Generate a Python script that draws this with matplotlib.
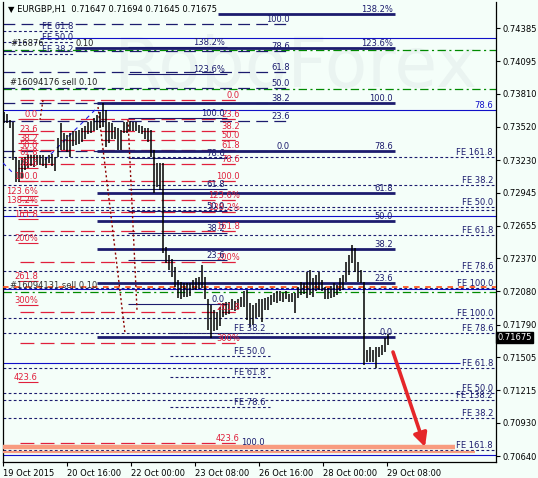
import matplotlib.pyplot as plt

plt.rcParams['font.family'] = 'DejaVu Sans'
plt.rcParams['lines.scale_dashes'] = False

FS = 6
NAVY = '#1c1c6e'
BLUE = '#1010c8'
RED = '#e0203c'
BG = '#f4fef9'

# --- Barres H1 (plus haut / plus bas), échantillonnées ---
bar_high = [
    0.7365, 0.7363, 0.7358, 0.7356, 0.7326, 0.7323, 0.7325, 0.7326, 0.7327, 0.7327,
    0.7327, 0.7327, 0.7327, 0.7327, 0.7326, 0.7327, 0.7328, 0.7326, 0.7342, 0.7355,
    0.7347, 0.7345, 0.7347, 0.7348, 0.7348, 0.7349, 0.7351, 0.7353, 0.7356, 0.7357,
    0.7360, 0.7362, 0.7365, 0.7373, 0.7367, 0.7356, 0.7355, 0.7352, 0.7351, 0.7349,
    0.7356, 0.7356, 0.7357, 0.7356, 0.7356, 0.7354, 0.7353, 0.7351, 0.7351, 0.7349,
    0.7332, 0.7320, 0.7320, 0.7320, 0.7247, 0.7240, 0.7236, 0.7229, 0.7218, 0.7216,
    0.7215, 0.7215, 0.7215, 0.7218, 0.7220, 0.7221, 0.7231, 0.7221, 0.7201, 0.7196,
    0.7192, 0.7190, 0.7194, 0.7198, 0.7199, 0.7199, 0.7201, 0.7200, 0.7201, 0.7203,
    0.7208, 0.7209, 0.7198, 0.7196, 0.7198, 0.7201, 0.7201, 0.7202, 0.7203, 0.7205,
    0.7207, 0.7208, 0.7208, 0.7207, 0.7208, 0.7206, 0.7207, 0.7207, 0.7212, 0.7216,
    0.7215, 0.7225, 0.7227, 0.7220, 0.7222, 0.7225, 0.7218, 0.7212, 0.7211, 0.7213,
    0.7215, 0.7214, 0.7220, 0.7222, 0.7234, 0.7240, 0.7249, 0.7246, 0.7234, 0.7227,
    0.7216, 0.7157, 0.7159, 0.7157, 0.7159, 0.7159, 0.7161, 0.7167, 0.7171]
bar_low = [
    0.7355, 0.7355, 0.7351, 0.7323, 0.7304, 0.7304, 0.7307, 0.7314, 0.7316, 0.7318,
    0.7317, 0.7319, 0.7319, 0.7318, 0.7316, 0.7320, 0.7318, 0.7313, 0.7326, 0.7332,
    0.7332, 0.7330, 0.7326, 0.7335, 0.7336, 0.7337, 0.7339, 0.7341, 0.7346, 0.7347,
    0.7348, 0.7349, 0.7351, 0.7352, 0.7334, 0.7338, 0.7341, 0.7341, 0.7332, 0.7332,
    0.7347, 0.7347, 0.7348, 0.7348, 0.7348, 0.7347, 0.7346, 0.7341, 0.7339, 0.7326,
    0.7294, 0.7299, 0.7297, 0.7242, 0.7233, 0.7227, 0.7221, 0.7212, 0.7202, 0.7201,
    0.7203, 0.7203, 0.7204, 0.7209, 0.7209, 0.7210, 0.7211, 0.7201, 0.7174, 0.7167,
    0.7173, 0.7174, 0.7178, 0.7186, 0.7187, 0.7188, 0.7192, 0.7191, 0.7193, 0.7194,
    0.7194, 0.7183, 0.7177, 0.7179, 0.7185, 0.7186, 0.7181, 0.7192, 0.7192, 0.7196,
    0.7199, 0.7198, 0.7200, 0.7199, 0.7201, 0.7199, 0.7199, 0.7189, 0.7202, 0.7205,
    0.7206, 0.7202, 0.7205, 0.7203, 0.7208, 0.7209, 0.7208, 0.7201, 0.7201, 0.7202,
    0.7203, 0.7205, 0.7208, 0.7209, 0.7216, 0.7222, 0.7233, 0.7225, 0.7216, 0.7215,
    0.7144, 0.7146, 0.7146, 0.7146, 0.7141, 0.7151, 0.7152, 0.7155, 0.7161]

# --- Axe du temps (heures depuis le bord gauche) ---
date_labels = ["19 Oct 2015", "20 Oct 16:00", "22 Oct 00:00", "23 Oct 08:00",
               "26 Oct 16:00", "28 Oct 00:00", "29 Oct 08:00"]
price_ticks = [0.74385, 0.74095, 0.73810, 0.73520, 0.73230, 0.72945, 0.72655,
               0.72370, 0.72080, 0.71790, 0.71505, 0.71215, 0.70930, 0.70640]
last_price = 0.71675
header = "▼ EURGBP,H1  0.71647 0.71694 0.71645 0.71675"

# --- Fibo A : lignes épaisses ---
fibA_labels = ["138.2%", "123.6%", "100.0", "78.6", "61.8", "50.0", "38.2", "23.6", "0.0"]
fibA_prices = [0.74508, 0.74210, 0.73729, 0.73309, 0.72941, 0.72696, 0.72451, 0.72154, 0.71681]
fibA_start = [107.5, 36, 47, 47, 47, 47, 47, 47, 47]
fibA_end = 196

# --- Fibo B : tirets longs bleu nuit ---
fibB_labels = ["100.0", "78.6", "61.8", "50.0", "38.2", "23.6", "0.0"]
fibB_prices = [0.74420, 0.74182, 0.73996, 0.73864, 0.73733, 0.73571, 0.73309]
fibB_end = 143.5

# --- Fibo C / D : rouges ---
fibR_labels = ["0.0", "23.6", "38.2", "50.0", "61.8", "78.6", "100.0", "123.6%",
               "138.2%", "161.8", "200%", "261.8", "300%", "423.6"]
fibC_prices = [0.73755, 0.73589, 0.73484, 0.73401, 0.73318, 0.73198, 0.73046, 0.72880,
               0.72775, 0.72609, 0.72338, 0.71900, 0.71629, 0.70754]
fibD_prices = [0.73589, 0.73458, 0.73379, 0.73318, 0.73256, 0.73160, 0.73046, 0.72915,
               0.72836, 0.72714, 0.72504, 0.72171, 0.71961, 0.71288]

# --- Fibo E : fines bleu nuit ---
fibE_labels = ["138.2%", "123.6%", "100.0", "78.6", "61.8", "50.0", "38.2", "23.6", "0.0"]
fibE_prices = [0.74219, 0.73983, 0.73598, 0.73248, 0.72976, 0.72784, 0.72591, 0.72355, 0.71970]

# --- Expansions FE ---
fe_labels = ["FE 161.8", "FE 38.2", "FE 50.0", "FE 61.8", "FE 78.6", "FE 100.0", "FE 100.0",
             "FE 78.6", "FE 61.8", "FE 50.0", "FE 138.2", "FE 38.2", "FE 161.8"]
fe_prices = [0.73256, 0.73011, 0.72819, 0.72574, 0.72259, 0.72110, 0.71848,
             0.71716, 0.71410, 0.71191, 0.71130, 0.70973, 0.70693]
fe_extra = [0.72793]
fe_mid_labels = ["FE 38.2", "FE 50.0", "FE 61.8", "FE 78.6", "100.0"]
fe_mid_prices = [0.71716, 0.71515, 0.71331, 0.71069, 0.70719]
fe_left_labels = ["FE 61.8", "FE 50.0", "FE 38.2"]
fe_left_prices = [0.74359, 0.74263, 0.74158]

# --- Lignes bleues, vertes, ordres ---
blue_prices = [0.74298, 0.73668, 0.72740, 0.72101, 0.71454, 0.70649]
blue_start = [18.5, 0, 0, 0, 0, 0]
blue_end = [246.5, 246.5, 246.5, 246.5, 228.5, 246.5]
green_prices = [0.74193, 0.73851, 0.72075]
orange_price = 0.72119
salmon_prices = [0.70719, 0.70675]
salmon_end = [226, 236]

fig = plt.figure(figsize=(5.38, 4.78), dpi=100)
fig.patch.set_facecolor(BG)
ax = fig.add_axes([3 / 538, 16 / 478, 493 / 538, 460 / 478])
ax.set_facecolor(BG)
ax.set_xlim(0, 246.5)
ax.set_ylim(0.705875, 0.746125)

# filigrane
ax.text(146, 0.7404, "RoboForex", fontsize=50, color='#eaf4f1', ha='center', va='center', zorder=0)

# lignes horizontales
ax.hlines(blue_prices, blue_start, blue_end, colors=BLUE, lw=0.8, zorder=2)
ax.text(245, 0.73668, "78.6", color=BLUE, fontsize=FS, ha='right', va='bottom', zorder=6)
ax.hlines(green_prices, 0, 246.5, colors='#008a00', lw=0.9, linestyles=[(0, (6, 2.5, 1.5, 2.5))], zorder=2)
ax.hlines(orange_price, 0, 246.5, colors='#ff4a10', lw=1.2, linestyles=[(0, (4, 4))], zorder=3)
ax.hlines(salmon_prices[0], 0, salmon_end[0], colors='#f89c80', lw=3.2, zorder=3)
ax.hlines(salmon_prices[1], 0, salmon_end[1], colors='#f89c80', lw=1.6, zorder=3)

dotted = [(0, (2, 1.7))]
ax.hlines(fe_prices + fe_extra, 0, 246.5, colors=NAVY, lw=0.8, linestyles=dotted, zorder=2)
for p, t in zip(fe_prices, fe_labels):
    ax.text(245, p, t, color=NAVY, fontsize=FS, ha='right', va='bottom', zorder=6)
ax.hlines(fe_mid_prices, 83.5, 133.5, colors=NAVY, lw=0.8, linestyles=dotted, zorder=2)
for p, t in zip(fe_mid_prices, fe_mid_labels):
    ax.text(131, p, t, color=NAVY, fontsize=FS, ha='right', va='bottom', zorder=6)
ax.hlines(fe_left_prices, 0, 35, colors=NAVY, lw=0.8, linestyles=dotted, zorder=2)
for p, t in zip(fe_left_prices, fe_left_labels):
    ax.text(35, p, t, color=NAVY, fontsize=FS, ha='right', va='bottom', zorder=6)

ax.hlines(fibB_prices, 0, fibB_end, colors=NAVY, lw=0.9, linestyles=[(0, (8.5, 4.5))], zorder=2)
for p, t in zip(fibB_prices, fibB_labels):
    ax.text(fibB_end, p, t, color=NAVY, fontsize=FS, ha='right', va='bottom', zorder=6)

ax.hlines(fibC_prices, 8.5, 118.5, colors=RED, lw=0.9, linestyles=[(0, (10, 4.5))], zorder=2)
for p, t in zip(fibC_prices, fibR_labels):
    ax.text(118.5, p, t, color=RED, fontsize=FS, ha='right', va='bottom', zorder=6)
ax.hlines(fibD_prices, 7.5, 17.5, colors=RED, lw=0.8, zorder=2)
for p, t in zip(fibD_prices, fibR_labels):
    ax.text(17.5, p, t, color=RED, fontsize=FS, ha='right', va='bottom', zorder=6)

ax.hlines(fibE_prices, 62.5, 112, colors=NAVY, lw=0.8, zorder=2)
for p, t in zip(fibE_prices, fibE_labels):
    ax.text(111, p, t, color=NAVY, fontsize=FS, ha='right', va='bottom', zorder=6)

ax.hlines(fibA_prices, fibA_start, fibA_end, colors=NAVY, lw=2.0, zorder=3)
for p, t in zip(fibA_prices, fibA_labels):
    ax.text(fibA_end - 1, p, t, color=NAVY, fontsize=FS, ha='right', va='bottom', zorder=6)

# lignes de tendance
ax.plot([47.5, 61], [0.73694, 0.71716], color='#8b0000', lw=1.0, ls=(0, (1.5, 1.8)), zorder=3)
ax.plot([62.5, 67], [0.73580, 0.71918], color='#8b0000', lw=1.0, ls=(0, (1.5, 1.8)), zorder=3)
ax.plot([20, 18.5], [0.73755, 0.73580], color='#8b0000', lw=1.0, ls=(0, (1.5, 1.8)), zorder=3)
ax.plot([21, 47.5], [0.73230, 0.73694], color='#2020e0', lw=0.8, ls=(0, (3, 3)), zorder=3)
ax.plot([0, 4.5], [0.73204, 0.73125], color='#2020e0', lw=0.8, ls=(0, (3, 3)), zorder=3)

# barres
bar_x = [0.5 + 1.5 * i for i in range(len(bar_high))]
ax.vlines(bar_x, bar_low, bar_high, colors='black', lw=1.1, zorder=5)

# textes d'ordres et en-tête
ax.text(2.5, 0.74543, header, fontsize=FS, va='center', ha='left', zorder=7)
ax.text(3.5, 0.74245, "#16876", fontsize=FS, va='center', ha='left', color='#202020', zorder=6)
ax.text(36, 0.74245, "0.10", fontsize=FS, va='center', ha='left', color='#202020', zorder=6)
ax.text(3.5, 0.73904, "#16094176 sell 0.10", fontsize=FS, va='center', ha='left', color='#202020', zorder=6)
ax.text(3.5, 0.72131, "#16094131 sell 0.10", fontsize=FS, va='center', ha='left', color='#303030', zorder=6)

# flèche
ax.annotate('', xy=(211, 0.70719), xytext=(195, 0.7155),
            arrowprops=dict(arrowstyle='-|>', color='#e52629', lw=2.6,
                            mutation_scale=20, shrinkA=0, shrinkB=0), zorder=8)

# axes
ax.set_xticks([0, 32, 64, 96, 128, 160, 192], date_labels)
for lbl in ax.get_xticklabels():
    lbl.set_ha('left')
ax.set_yticks(price_ticks, [f"{v:.5f}" for v in price_ticks])
ax.yaxis.tick_right()
ax.tick_params(axis='y', length=3, width=0.8, pad=2, labelsize=FS)
ax.tick_params(axis='x', length=3, width=0.8, pad=2, labelsize=FS)
ax.spines['top'].set_visible(False)
for s in ['left', 'right', 'bottom']:
    ax.spines[s].set_linewidth(0.9)

ax.text(1.003, last_price, f"{last_price:.5f}", transform=ax.get_yaxis_transform(),
        color='white', fontsize=FS, va='center', ha='left', zorder=9,
        bbox=dict(boxstyle='square,pad=0.15', fc='black', ec='black'))

fig.savefig("out.png", dpi=100, facecolor=BG)
